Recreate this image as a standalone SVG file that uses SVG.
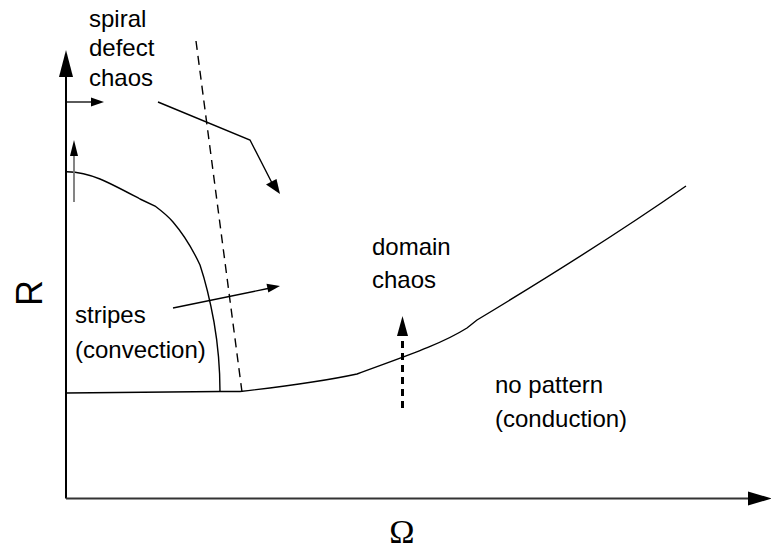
<svg xmlns="http://www.w3.org/2000/svg" width="771" height="550" viewBox="0 0 771 550">
<defs>
<style>
.ln{fill:none;stroke:#000;stroke-width:1.4}
.lb{font-family:"Liberation Sans",Arial,sans-serif;font-size:24px;fill:#000}
</style>
</defs>
<rect width="771" height="550" fill="#fff"/>
<g id="axes">
<line x1="66" y1="498.5" x2="66" y2="76" stroke="#000" stroke-width="2"/>
<polygon points="66,50 59,77 73,77" fill="#000"/>
<line x1="66" y1="498.5" x2="750" y2="498.5" stroke="#333" stroke-width="2"/>
<polygon points="772,498.5 748,491.5 748,505.5" fill="#000"/>
<text x="42" y="293" font-family="'Liberation Sans',Arial,sans-serif" font-size="36" text-anchor="middle" transform="rotate(-90 42 293)">R</text>
<text x="402" y="543" font-family="'Liberation Serif','Times New Roman',serif" font-size="34" text-anchor="middle">Ω</text>
</g>
<g id="boundaries">
<path class="ln" d="M66.7,171.7 C80,172 88,174 100,179 C112,184 123,190 140,199 L155,206 C163,212 168,216 173,222 C185,236 193,250 200,265 C205,280 210,300 214,322 C218,345 220,365 220,392"/>
<path class="ln" d="M66,393 L220,391.5 L240,391.5 C280,387 320,382 357,374 C400,358 440,345 467,328 L477,320 C540,282 620,232 686,186"/>
<line x1="196" y1="41" x2="242" y2="392" stroke="#000" stroke-width="1.4" stroke-dasharray="9,6"/>
</g>
<g id="spiral-defect-chaos">
<text class="lb" x="89" y="27">spiral</text>
<text class="lb" x="89" y="56">defect</text>
<text class="lb" x="89" y="86">chaos</text>
<line x1="67" y1="102" x2="92" y2="102" stroke="#000" stroke-width="1.3"/>
<polygon points="104,102 91,97.5 91,106.5" fill="#000"/>
<polyline class="ln" points="158,102 250,140 272,183"/>
<polygon points="280,194 266,184.5 276.5,179" fill="#000"/>
</g>
<g id="stripes">
<text class="lb" x="75" y="323">stripes</text>
<text class="lb" x="75" y="358">(convection)</text>
<line x1="74" y1="202" x2="74" y2="154" stroke="#777" stroke-width="1.8"/>
<polygon points="74,140 70,156 78,156" fill="#000"/>
<line x1="173" y1="308" x2="268" y2="288.5" stroke="#000" stroke-width="1.3"/>
<polygon points="280,286 266.5,283.7 268.3,292.5" fill="#000"/>
</g>
<g id="domain-chaos">
<text class="lb" x="372" y="255">domain</text>
<text class="lb" x="372" y="288">chaos</text>
<line x1="402.5" y1="408" x2="402.5" y2="334" stroke="#000" stroke-width="3" stroke-dasharray="7,5"/>
<polygon points="402.5,316 397,336 408,336" fill="#000"/>
</g>
<g id="no-pattern">
<text class="lb" x="495" y="393">no pattern</text>
<text class="lb" x="495" y="427">(conduction)</text>
</g>
</svg>
